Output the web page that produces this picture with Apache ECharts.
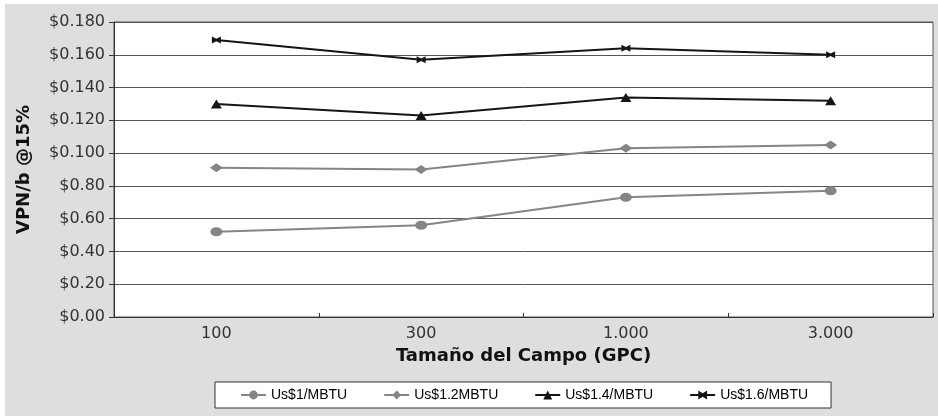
<!DOCTYPE html>
<html>
<head>
<meta charset="utf-8">
<script src="https://cdn.jsdelivr.net/npm/echarts@6/dist/echarts.min.js"></script>
<style>
html,body{margin:0;padding:0;background:#fff;width:938px;height:416px;overflow:hidden;}
#chart{position:absolute;left:5px;top:4px;width:933px;height:412px;}
</style>
</head>
<body>
<div id="chart"></div>
<script>
const categories = ['100', '300', '1.000', '3.000'];
const yTickLabels = ['$0.00','$0.20','$0.40','$0.60','$0.80','$0.100','$0.120','$0.140','$0.160','$0.180'];
const seriesNames = ['Us$1/MBTU', 'Us$1.2MBTU', 'Us$1.4/MBTU', 'Us$1.6/MBTU'];
const us1 = [0.052, 0.056, 0.073, 0.077];
const us12 = [0.091, 0.090, 0.103, 0.105];
const us14 = [0.130, 0.123, 0.134, 0.132];
const us16 = [0.169, 0.157, 0.164, 0.160];

const gray = '#858585';
const black = '#151515';
const xMark = 'path://M0,0 L5,2.2 L10,0 L10,7 L5,4.8 L0,7 Z';

const chart = echarts.init(document.getElementById('chart'));
chart.setOption({
  backgroundColor: '#dedede',
  animation: false,
  grid: {
    left: 109, right: 5, top: 18, bottom: 99,
    show: true, backgroundColor: '#fff', borderColor: '#555', borderWidth: 1
  },
  xAxis: {
    type: 'category',
    data: categories,
    boundaryGap: true,
    axisLine: { lineStyle: { color: '#333', width: 1 } },
    axisTick: { show: true, inside: true, length: 4, lineStyle: { color: '#333' } },
    axisLabel: { color: '#333', fontFamily: 'DejaVu Sans', fontSize: 16, margin: 9 },
    name: 'Tamaño del Campo (GPC)',
    nameLocation: 'middle',
    nameGap: 29,
    nameTextStyle: { color: '#111', fontFamily: 'DejaVu Sans', fontWeight: 'bold', fontSize: 18 }
  },
  yAxis: {
    type: 'value',
    min: 0, max: 0.18, interval: 0.02,
    axisLine: { show: true, lineStyle: { color: '#333', width: 1 } },
    axisTick: { show: true, length: 5, lineStyle: { color: '#333' } },
    splitLine: { lineStyle: { color: '#555', width: 1 } },
    axisLabel: {
      color: '#333', fontFamily: 'DejaVu Sans', fontSize: 16, margin: 9,
      formatter: v => yTickLabels[Math.round(v / 0.02)]
    },
    name: 'VPN/b @15%',
    nameLocation: 'middle',
    nameGap: 81,
    nameTextStyle: { color: '#111', fontFamily: 'DejaVu Sans', fontWeight: 'bold', fontSize: 18 }
  },
  legend: {
    left: 210, top: 378,
    backgroundColor: '#fff', borderColor: '#333', borderWidth: 1,
    padding: [6, 23, 6, 25],
    itemWidth: 25, itemHeight: 11, itemGap: 36,
    textStyle: { color: '#000', fontFamily: "'Liberation Sans', Arial, sans-serif", fontSize: 14 },
    data: seriesNames
  },
  series: [
    { name: seriesNames[0], type: 'line', data: us1, symbol: 'circle', symbolSize: [12, 9],
      lineStyle: { color: gray, width: 2 }, itemStyle: { color: gray } },
    { name: seriesNames[1], type: 'line', data: us12, symbol: 'diamond', symbolSize: [13, 9],
      lineStyle: { color: gray, width: 2 }, itemStyle: { color: gray } },
    { name: seriesNames[2], type: 'line', data: us14, symbol: 'triangle', symbolSize: [11, 9],
      lineStyle: { color: black, width: 2 }, itemStyle: { color: black } },
    { name: seriesNames[3], type: 'line', data: us16, symbol: xMark, symbolSize: [9, 7],
      lineStyle: { color: black, width: 2 }, itemStyle: { color: black } }
  ]
});
</script>
</body>
</html>
